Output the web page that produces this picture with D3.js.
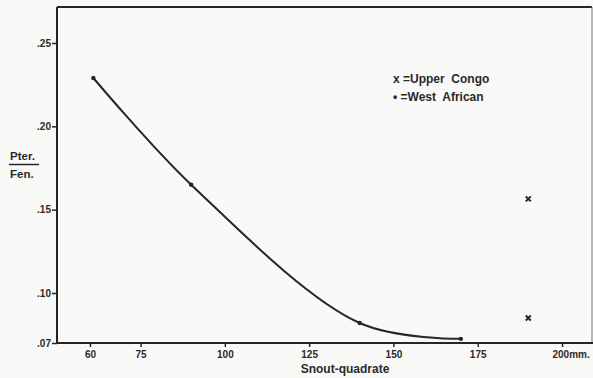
<!DOCTYPE html>
<html><head><meta charset="utf-8">
<script src="https://cdn.jsdelivr.net/npm/d3@7"></script>
<style>
body{margin:0;background:#f9f9f7;}
svg{display:block;}
text{font-family:"Liberation Sans","DejaVu Sans",sans-serif;fill:#2a2a2a;}
</style></head>
<body><svg id="c" width="593" height="378"></svg>
<script>
// Data
const westAfricanX = [61, 90, 140, 170];
const westAfricanY = [0.229, 0.165, 0.082, 0.0725];
const upperCongoX = [190, 190];
const upperCongoY = [0.1565, 0.085];
const xTicks = [60, 75, 100, 125, 150, 175, 200];
const xTickLabels = ["60", "75", "100", "125", "150", "175", "200mm."];
const yTicks = [0.07, 0.10, 0.15, 0.20, 0.25];
const yTickLabels = [".07", ".10", ".15", ".20", ".25"];
const legendLabels = ["x =Upper  Congo", "\u2022 =West  African"];

(function () {
const svg = d3.select("#c");
const x = d3.scaleLinear().domain([60, 200]).range([90, 562]);
const y = d3.scaleLinear().domain([0.07, 0.25]).range([343, 43]);
const ink = "#262626";

const xLeft = x.invert(57), xRight = x.invert(592), yTop = y.invert(7);

// frame: top and right lines
svg.append("line").attr("x1", x(xLeft)).attr("x2", x(xRight)).attr("y1", y(yTop)).attr("y2", y(yTop))
  .attr("stroke", ink).attr("stroke-width", 2);
svg.append("line").attr("x1", x(xRight)).attr("x2", x(xRight)).attr("y1", y(yTop)).attr("y2", y(0.07))
  .attr("stroke", "#777").attr("stroke-width", 1);

// axes
const yAxis = d3.axisLeft(y).tickValues(yTicks).tickFormat((d, i) => yTickLabels[i]).tickSize(5).tickPadding(1);
const gy = svg.append("g").attr("transform", `translate(${x(xLeft)},0)`).call(yAxis);
gy.select(".domain").attr("d", `M0,${y(yTop)}V${y(0.07)}`).attr("stroke", ink).attr("stroke-width", 2);
gy.selectAll(".tick line").attr("stroke", ink).attr("stroke-width", 1.5);
gy.selectAll(".tick text").attr("font-size", 10).attr("font-weight", "bold").attr("fill", "#2a2a2a");

const xAxis = d3.axisBottom(x).tickValues(xTicks).tickFormat((d, i) => xTickLabels[i]).tickSize(4).tickPadding(4);
const gx = svg.append("g").attr("transform", `translate(0,${y(0.07)})`).call(xAxis);
gx.select(".domain").attr("d", `M${x(xLeft)},0H${x(xRight) + 1}`).attr("stroke", ink).attr("stroke-width", 2);
gx.selectAll(".tick line").attr("stroke", ink).attr("stroke-width", 1.5);
gx.selectAll(".tick text").attr("font-size", 10).attr("font-weight", "bold").attr("fill", "#2a2a2a");
gx.selectAll(".tick").filter(d => d === 200).select("text").attr("text-anchor", "start").attr("dx", -10);

// axis titles
svg.append("text").attr("x", 345).attr("y", 373).attr("text-anchor", "middle")
  .attr("font-size", 12).attr("font-weight", "bold").text("Snout-quadrate");
svg.append("text").attr("x", 10).attr("y", 160).attr("font-size", 11.5).attr("font-weight", "bold").text("Pter.");
svg.append("line").attr("x1", 9).attr("x2", 39).attr("y1", 164.5).attr("y2", 164.5).attr("stroke", ink).attr("stroke-width", 1.5);
svg.append("text").attr("x", 10).attr("y", 178).attr("font-size", 11.5).attr("font-weight", "bold").text("Fen.");

// West African line
const pts = westAfricanX.map((v, i) => [v, westAfricanY[i]]);
const line = d3.line().x(d => x(d[0])).y(d => y(d[1])).curve(d3.curveCatmullRom.alpha(0.5));
svg.append("path").attr("d", line(pts)).attr("fill", "none").attr("stroke", ink).attr("stroke-width", 2);
svg.selectAll("circle.wa").data(pts).enter().append("circle").attr("class", "wa")
  .attr("cx", d => x(d[0])).attr("cy", d => y(d[1])).attr("r", 2.2).attr("fill", ink);

// Upper Congo markers
const uc = upperCongoX.map((v, i) => [v, upperCongoY[i]]);
svg.selectAll("path.uc").data(uc).enter().append("path").attr("class", "uc")
  .attr("d", d => { const cx = x(d[0]), cy = y(d[1]); return `M${cx-2.5},${cy-2.5}L${cx+2.5},${cy+2.5}M${cx+2.5},${cy-2.5}L${cx-2.5},${cy+2.5}`; })
  .attr("stroke", ink).attr("stroke-width", 2);

// legend
svg.selectAll("text.leg").data(legendLabels).enter().append("text").attr("class", "leg")
  .attr("x", 393).attr("y", (d, i) => 83 + i * 18).attr("font-size", 12).attr("font-weight", "bold")
  .attr("xml:space", "preserve").style("white-space", "pre").text(d => d);
})();
</script></body></html>
